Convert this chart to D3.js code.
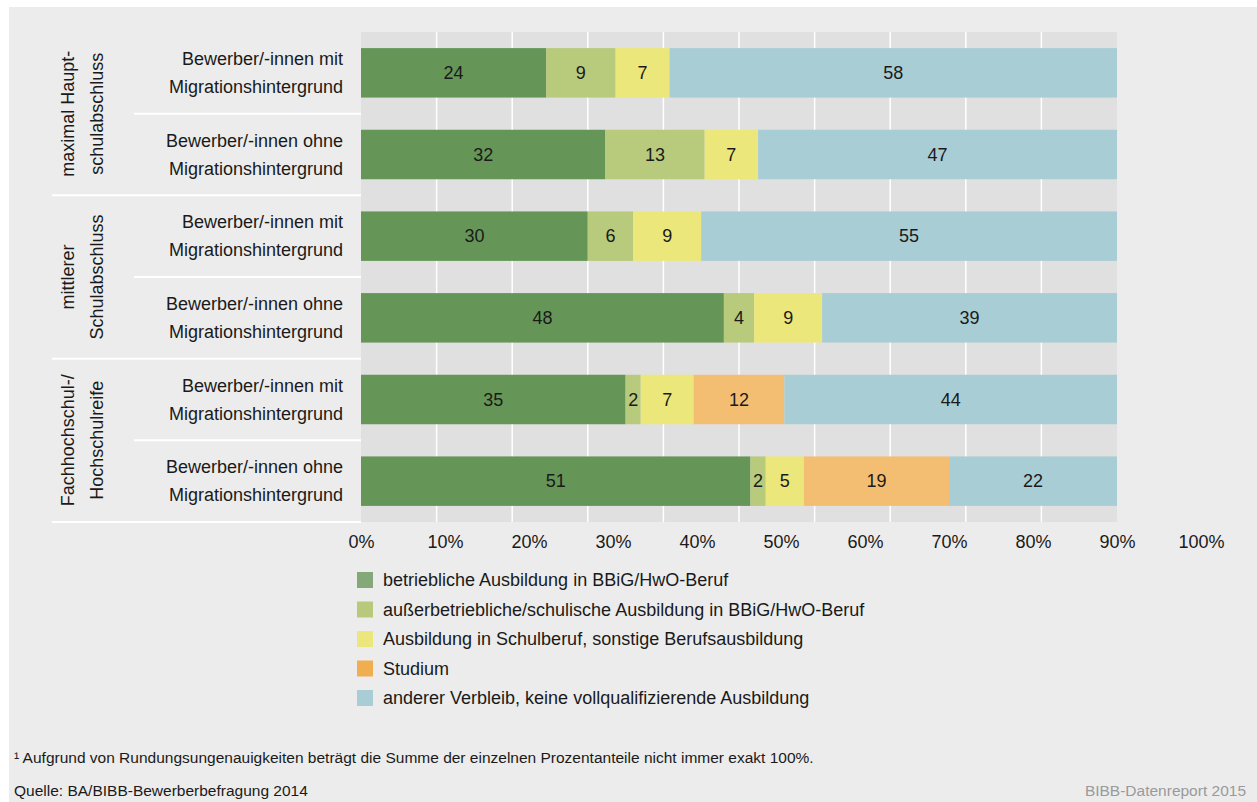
<!DOCTYPE html>
<html>
<head>
<meta charset="utf-8">
<script src="https://cdn.jsdelivr.net/npm/d3@7"></script>
<style>
  body { margin: 0; background: #fff; }
  svg { display: block; font-family: "Liberation Sans", Arial, sans-serif; }
</style>
</head>
<body>
<svg id="chart" width="1257" height="802"></svg>
<script>
// rows (top to bottom)
const rowLabels = [
  ["Bewerber/-innen mit", "Migrationshintergrund"],
  ["Bewerber/-innen ohne", "Migrationshintergrund"],
  ["Bewerber/-innen mit", "Migrationshintergrund"],
  ["Bewerber/-innen ohne", "Migrationshintergrund"],
  ["Bewerber/-innen mit", "Migrationshintergrund"],
  ["Bewerber/-innen ohne", "Migrationshintergrund"]
]
const groupLabels = [
  ["maximal Haupt-", "schulabschluss"],
  ["mittlerer", "Schulabschluss"],
  ["Fachhochschul-/", "Hochschulreife"]
]

// series
const seriesNames = [
  "betriebliche Ausbildung in BBiG/HwO-Beruf",
  "außerbetriebliche/schulische Ausbildung in BBiG/HwO-Beruf",
  "Ausbildung in Schulberuf, sonstige Berufsausbildung",
  "Studium",
  "anderer Verbleib, keine vollqualifizierende Ausbildung"
]
const betrieblich = [24, 32, 30, 48, 35, 51]
const ausserbetrieblich = [9, 13, 6, 4, 2, 2]
const schulberuf = [7, 7, 9, 9, 7, 5]
const studium = [0, 0, 0, 0, 12, 19]
const andere = [58, 47, 55, 39, 44, 22]

const tickLabels = ["0%", "10%", "20%", "30%", "40%", "50%", "60%", "70%", "80%", "90%", "100%"]

const barColors = ["#659657", "#b8ca7b", "#ece77b", "#f4be72", "#a9cdd5"]
const legendColors = ["#84a877", "#b8c97c", "#ece77c", "#f0ae50", "#a8cdd4"]

const seriesValues = [betrieblich, ausserbetrieblich, schulberuf, studium, andere]
const table = rowLabels.map((r, i) => {
  const o = { row: i }
  seriesNames.forEach((s, j) => { o[s] = seriesValues[j][i] })
  return o
})

const svg = d3.select("#chart")
const W = 1257, H = 802

// background
svg.append("rect").attr("x", 9).attr("y", 7).attr("width", W - 9).attr("height", H - 7).attr("fill", "#ececec")

const plotLeft = 361, plotRight = 1117, plotTop = 32, plotBottom = 522

const x = d3.scaleLinear().domain([0, 1]).range([plotLeft, plotRight])
const y = d3.scaleBand().domain(d3.range(rowLabels.length)).range([plotTop, plotBottom])
  .paddingInner(0.394).paddingOuter(0.197)

// plot area
svg.append("rect").attr("x", plotLeft).attr("y", plotTop)
  .attr("width", plotRight - plotLeft).attr("height", plotBottom - plotTop).attr("fill", "#e0e0e0")

svg.append("g").selectAll("line").data(d3.range(0.1, 1, 0.1)).join("line")
  .attr("x1", d => x(d)).attr("x2", d => x(d))
  .attr("y1", plotTop).attr("y2", plotBottom)
  .attr("stroke", "#fff").attr("stroke-width", 1.5)

// stacked bars, normalized to 100%
const stack = d3.stack().keys(seriesNames).offset(d3.stackOffsetExpand)
const stacked = stack(table)

const layers = svg.append("g").selectAll("g").data(stacked).join("g")
  .attr("fill", (d, i) => barColors[i])

layers.selectAll("rect").data(d => d).join("rect")
  .attr("x", d => x(d[0]))
  .attr("width", d => x(d[1]) - x(d[0]))
  .attr("y", d => y(d.data.row))
  .attr("height", y.bandwidth())

layers.selectAll("text").data(d => d.map(v => ({ v, key: d.key }))).join("text")
  .filter(d => d.v.data[d.key] > 0)
  .attr("x", d => (x(d.v[0]) + x(d.v[1])) / 2)
  .attr("y", d => y(d.v.data.row) + y.bandwidth() / 2)
  .attr("text-anchor", "middle")
  .attr("dominant-baseline", "central")
  .attr("fill", "#1a1a1a")
  .attr("font-size", 18)
  .text(d => d.v.data[d.key])

// row labels
const rowG = svg.append("g").selectAll("text").data(rowLabels).join("text")
  .attr("text-anchor", "end")
  .attr("font-size", 18)
  .attr("fill", "#1a1a1a")
rowG.selectAll("tspan").data((d, i) => d.map((t, k) => ({ t, k, i }))).join("tspan")
  .attr("x", 343)
  .attr("y", d => y(d.i) + y.bandwidth() / 2 + (d.k === 0 ? -14 : 14))
  .attr("dominant-baseline", "central")
  .text(d => d.t)

// separator lines
const half = y.step() * y.paddingInner() / 2
svg.append("g").selectAll("line").data(d3.range(rowLabels.length)).join("line")
  .attr("x1", i => i % 2 === 0 ? 134 : 52)
  .attr("x2", plotLeft)
  .attr("y1", i => y(i) + y.bandwidth() + half)
  .attr("y2", i => y(i) + y.bandwidth() + half)
  .attr("stroke", "#fff").attr("stroke-width", 2)

// group labels (rotated)
groupLabels.forEach((g, gi) => {
  const cy = (y(gi * 2) + y(gi * 2 + 1) + y.bandwidth()) / 2
  g.forEach((t, k) => {
    const cx = k === 0 ? 68 : 97
    svg.append("text")
      .attr("transform", `translate(${cx},${cy}) rotate(-90)`)
      .attr("text-anchor", "middle")
      .attr("dominant-baseline", "central")
      .attr("font-size", 18)
      .attr("fill", "#1a1a1a")
      .text(t)
  })
})

// tick labels (as printed in the original)
const xLabel = d3.scaleLinear().domain([0, 100]).range([plotLeft, 1201])
const axis = d3.axisBottom(xLabel).tickValues(d3.range(0, 101, 10))
  .tickFormat((d, i) => tickLabels[i]).tickSize(0).tickPadding(0)
const ax = svg.append("g").attr("transform", "translate(0,542)").call(axis)
ax.select(".domain").remove()
ax.selectAll("text").attr("font-size", 18).attr("fill", "#1a1a1a")
  .attr("font-family", "Liberation Sans, Arial, sans-serif")
  .attr("dy", null).attr("y", 0).attr("dominant-baseline", "central")

// legend
const lg = svg.append("g").selectAll("g").data(seriesNames).join("g")
  .attr("transform", (d, i) => `translate(357,${572 + i * 29.5})`)
lg.append("rect").attr("width", 16).attr("height", 16).attr("fill", (d, i) => legendColors[i])
lg.append("text").attr("x", 26).attr("y", 8).attr("dominant-baseline", "central")
  .attr("font-size", 18).attr("fill", "#1a1a1a").text(d => d)

// footer
svg.append("text").attr("x", 14).attr("y", 757).attr("dominant-baseline", "central")
  .attr("font-size", 15.5).attr("fill", "#1a1a1a")
  .text("¹ Aufgrund von Rundungsungenauigkeiten beträgt die Summe der einzelnen Prozentanteile nicht immer exakt 100%.")
svg.append("text").attr("x", 14).attr("y", 790).attr("dominant-baseline", "central")
  .attr("font-size", 15.5).attr("fill", "#1a1a1a")
  .text("Quelle: BA/BIBB-Bewerberbefragung 2014")
svg.append("text").attr("x", 1246).attr("y", 790).attr("dominant-baseline", "central")
  .attr("text-anchor", "end").attr("font-size", 15.5).attr("fill", "#9a9a9a")
  .text("BIBB-Datenreport 2015")
</script>
</body>
</html>
